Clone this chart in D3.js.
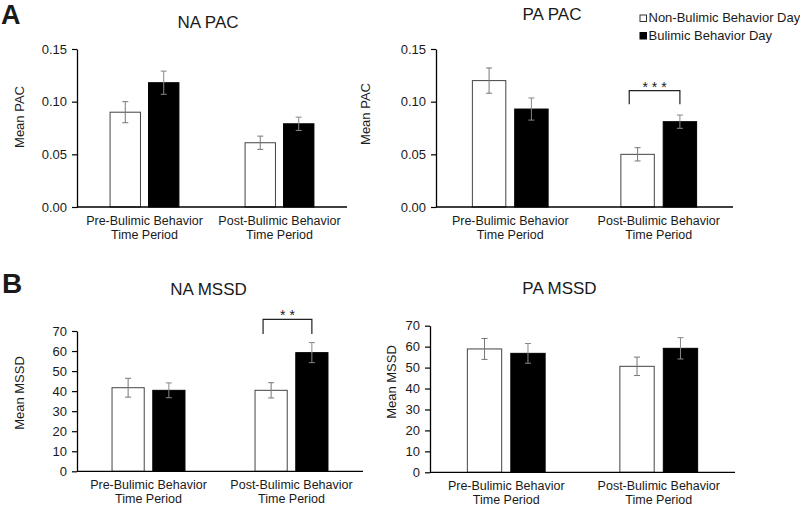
<!DOCTYPE html>
<html><head><meta charset="utf-8">
<script src="https://cdn.jsdelivr.net/npm/d3@7"></script>
<style>
html,body{margin:0;padding:0;background:#fff;}
text{font-family:Arial,"Liberation Sans",sans-serif;fill:#1a1a1a;}
</style></head>
<body><svg id="c" width="800" height="507"></svg>
<script>
const categories = [["Pre-Bulimic Behavior","Time Period"],["Post-Bulimic Behavior","Time Period"]];
const seriesNames = ["Non-Bulimic Behavior Day","Bulimic Behavior Day"];
const pacTicks = [0, 0.05, 0.10, 0.15];
const mssdTicks = [0,10,20,30,40,50,60,70];

const naPacNon = [0.090, 0.061], naPacNonErr = [0.010, 0.0063];
const naPacBul = [0.118, 0.079], naPacBulErr = [0.011, 0.0063];
const paPacNon = [0.120, 0.050], paPacNonErr = [0.012, 0.0063];
const paPacBul = [0.093, 0.081], paPacBulErr = [0.0105, 0.0063];
const naMssdNon = [41.7, 40.4], naMssdNonErr = [4.7, 3.8];
const naMssdBul = [40.4, 59.2], naMssdBulErr = [3.7, 5.0];
const paMssdNon = [58.9, 50.6], paMssdNonErr = [5.0, 4.4];
const paMssdBul = [56.8, 59.2], paMssdBulErr = [4.7, 5.1];
// significance: [category index, label, bracket top value, bracket bottom value]
const paPacSig = [1, "***", 0.1104, 0.0975];
const naMssdSig = [1, "**", 75.8, 68.5];

const svg = d3.select("#c");

function panel(cfg){
  const g = svg.append("g");
  const x = d3.scaleBand().domain(d3.range(categories.length)).range([cfg.l, cfg.r]).paddingInner(0.49).paddingOuter(0.245);
  const xs = d3.scaleBand().domain([0,1]).range([0, x.bandwidth()]).paddingInner(0.21);
  const y = d3.scaleLinear().domain([0, cfg.ymax]).range([cfg.b, cfg.t]);
  const vals = [cfg.non, cfg.bul], errs = [cfg.nonErr, cfg.bulErr];

  categories.forEach((c,i)=>{
    [0,1].forEach(s=>{
      const v = vals[s][i];
      g.append("rect").attr("x", x(i)+xs(s)).attr("y", y(v))
        .attr("width", xs.bandwidth()).attr("height", y(0)-y(v))
        .attr("fill", s===0?"#fff":"#000").attr("stroke", s===0?"#444":"#000").attr("stroke-width",1);
    });
  });
  categories.forEach((c,i)=>{
    [0,1].forEach(s=>{
      const v = vals[s][i], e = errs[s][i];
      const cx = x(i)+xs(s)+xs.bandwidth()/2;
      const col = s===0?"#777":"#888";
      g.append("line").attr("x1",cx).attr("x2",cx).attr("y1",y(v+e)).attr("y2",y(v-e)).attr("stroke",col).attr("stroke-width",1);
      [v+e, v-e].forEach(q=>g.append("line").attr("x1",cx-3).attr("x2",cx+3).attr("y1",y(q)).attr("y2",y(q)).attr("stroke",col).attr("stroke-width",1));
    });
  });
  const ya = g.append("g").attr("transform",`translate(${cfg.l},0)`)
    .call(d3.axisLeft(y).tickValues(cfg.ticks).tickFormat(cfg.fmt).tickSize(5).tickPadding(5).tickSizeOuter(0));
  ya.select(".domain").attr("stroke","#000").attr("stroke-width",1.3);
  ya.selectAll(".tick line").attr("stroke","#000").attr("stroke-width",1.2);
  ya.selectAll(".tick text").attr("font-size",13).attr("fill","#1a1a1a").style("font-family","Arial, 'Liberation Sans', sans-serif");
  g.append("line").attr("x1",cfg.l).attr("x2",cfg.r).attr("y1",y(0)).attr("y2",y(0)).attr("stroke","#000").attr("stroke-width",1.3);
  categories.forEach((c,i)=>{
    const t = g.append("text").attr("x", x(i)+x.bandwidth()/2).attr("y", y(0)+18).attr("text-anchor","middle").attr("font-size",12.5);
    c.forEach((line,k)=>t.append("tspan").attr("x", x(i)+x.bandwidth()/2).attr("dy", k===0?0:14).text(line));
  });
  g.append("text").attr("x",cfg.tx).attr("y",cfg.ty).attr("text-anchor","middle").attr("font-size",17).text(cfg.title);
  g.append("text").attr("transform",`translate(${cfg.lx},${cfg.ly}) rotate(-90)`).attr("dy","0.35em")
    .attr("text-anchor","middle").attr("font-size",13).text(cfg.ylabel);
  if(cfg.sig){
    const [ci, lab, top, bot] = cfg.sig;
    const x1 = x(ci)+xs(0)+xs.bandwidth()*0.25, x2 = x(ci)+xs(1)+xs.bandwidth()/2;
    g.append("path").attr("d",`M${x1},${y(bot)}V${y(top)}H${x2}V${y(bot)}`).attr("fill","none").attr("stroke","#222").attr("stroke-width",1.2);
    g.append("text").attr("x",(x1+x2)/2+2).attr("y",y(top)+1).attr("text-anchor","middle").attr("font-size",14)
      .attr("letter-spacing",4).text(lab);
  }
}

const fmtPac = d3.format(".2f"), fmtMssd = d3.format("d");
panel({l:77,r:347,t:49,b:207,ymax:0.15,ticks:pacTicks,fmt:fmtPac,non:naPacNon,nonErr:naPacNonErr,bul:naPacBul,bulErr:naPacBulErr,
  title:"NA PAC",tx:208,ty:27.5,ylabel:"Mean PAC",lx:19,ly:117});
panel({l:436,r:733,t:49,b:207,ymax:0.15,ticks:pacTicks,fmt:fmtPac,non:paPacNon,nonErr:paPacNonErr,bul:paPacBul,bulErr:paPacBulErr,
  title:"PA PAC",tx:552,ty:19.5,ylabel:"Mean PAC",lx:365,ly:114,sig:paPacSig});
panel({l:77,r:363,t:331,b:471.3,ymax:70,ticks:mssdTicks,fmt:fmtMssd,non:naMssdNon,nonErr:naMssdNonErr,bul:naMssdBul,bulErr:naMssdBulErr,
  title:"NA MSSD",tx:208.5,ty:294.5,ylabel:"Mean MSSD",lx:19,ly:393,sig:naMssdSig});
panel({l:430,r:735,t:325.7,b:472.3,ymax:70,ticks:mssdTicks,fmt:fmtMssd,non:paMssdNon,nonErr:paMssdNonErr,bul:paMssdBul,bulErr:paMssdBulErr,
  title:"PA MSSD",tx:559.5,ty:294,ylabel:"Mean MSSD",lx:391.5,ly:382});

svg.append("text").attr("x",1).attr("y",24).attr("font-size",27).attr("font-weight","bold").attr("fill","#000").text("A");
svg.append("text").attr("x",2).attr("y",293).attr("font-size",28).attr("font-weight","bold").attr("fill","#000").text("B");

const leg = svg.append("g");
seriesNames.forEach((n,i)=>{
  const yy = 22 + i*17.5;
  leg.append("rect").attr("x",640).attr("y",yy-7).attr("width",6.5).attr("height",6.5)
    .attr("fill", i===0?"#fff":"#000").attr("stroke", i===0?"#333":"#000").attr("stroke-width",1);
  leg.append("text").attr("x",648.5).attr("y",yy).attr("font-size",13).text(n);
});
</script></body></html>
